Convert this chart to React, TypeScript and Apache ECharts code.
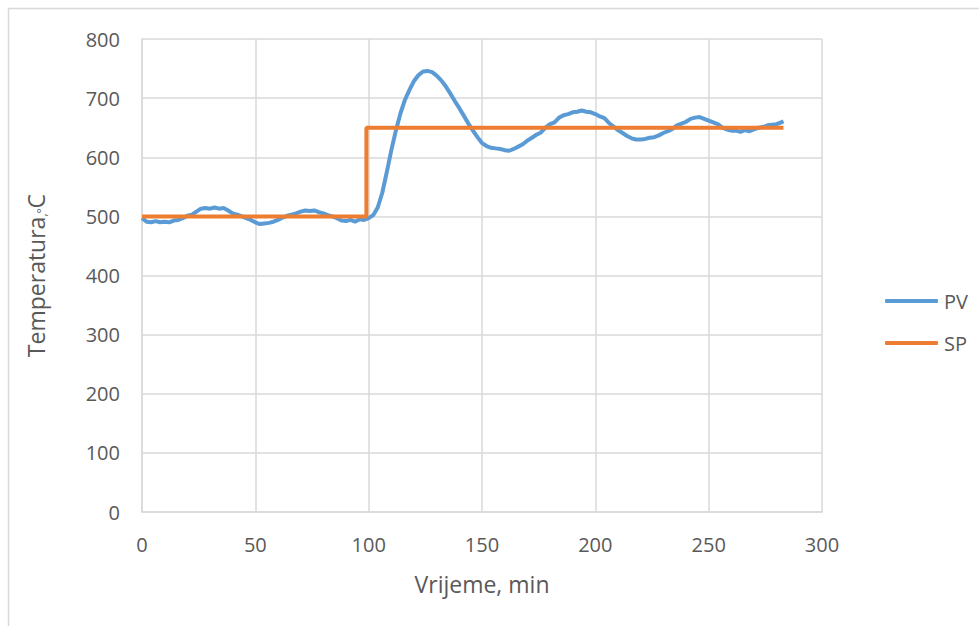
import React, { useEffect, useRef } from "react";
import * as echarts from "echarts";

const pvTimes: number[] = [
  0, 2, 4, 6, 8, 10, 12, 14, 16, 18, 20, 22, 24, 26, 28, 30, 32, 34, 36, 38,
  40, 42, 44, 46, 48, 50, 52, 54, 56, 58, 60, 62, 64, 66, 68, 70, 72, 74, 76, 78,
  80, 82, 84, 86, 88, 90, 92, 94, 96, 98, 100, 102, 104, 106, 108, 110, 112, 114, 116, 118,
  120, 122, 124, 126, 128, 130, 132, 134, 136, 138, 140, 142, 144, 146, 148, 150, 152, 154, 156, 158,
  160, 162, 164, 166, 168, 170, 172, 174, 176, 178, 180, 182, 184, 186, 188, 190, 192, 194, 196, 198,
  200, 202, 204, 206, 208, 210, 212, 214, 216, 218, 220, 222, 224, 226, 228, 230, 232, 234, 236, 238,
  240, 242, 244, 246, 248, 250, 252, 254, 256, 258, 260, 262, 264, 266, 268, 270, 272, 274, 276, 278,
  280, 282, 283,
];

const pvValues: number[] = [
  497, 491, 490, 492, 490, 491, 490, 493, 494, 497, 501, 503, 508, 513, 514, 513, 515, 513, 514, 510,
  505, 503, 500, 497, 494, 490, 487, 488, 489, 491, 494, 498, 501, 503, 505, 508, 510, 509, 510, 507,
  505, 502, 500, 497, 493, 492, 494, 491, 495, 494, 497, 502, 515, 540, 575, 612, 645, 674, 697, 714,
  729, 739, 745, 746, 744, 738, 730, 720, 708, 695, 683, 670, 657, 645, 634, 624, 619, 616, 615, 614,
  612, 611, 614, 618, 622, 628, 633, 638, 642, 650, 656, 659, 667, 671, 673, 676, 677, 679, 677, 676,
  673, 669, 666, 658, 652, 646, 641, 636, 632, 630, 630, 631, 633, 634, 637, 641, 644, 648, 654, 657,
  660, 665, 667, 668, 665, 662, 659, 656, 650, 647, 645, 645, 643, 646, 644, 647, 650, 651, 654, 655,
  656, 659, 661,
];

const spTimes: number[] = [0, 99, 99, 283];
const spValues: number[] = [500, 500, 650, 650];

const xTicks: number[] = [0, 50, 100, 150, 200, 250, 300];
const yTicks: number[] = [0, 100, 200, 300, 400, 500, 600, 700, 800];

const seriesNames = ["PV", "SP"];
const seriesColors = ["#5b9bd5", "#ed7d31"];

export default function App() {
  const ref = useRef<HTMLDivElement>(null);

  useEffect(() => {
    if (!ref.current) return;
    const chart = echarts.init(ref.current, undefined, { renderer: "svg" });
    const font = "'Open Sans', 'Liberation Sans', sans-serif";
    const pv = pvTimes.map((t, i) => [t, pvValues[i]]);
    const sp = spTimes.map((t, i) => [t, spValues[i]]);
    chart.setOption({
      animation: false,
      backgroundColor: "#ffffff",
      textStyle: { fontFamily: font },
      graphic: [
        {
          type: "rect",
          shape: { x: 8.5, y: 8.5, width: 1200, height: 1200 },
          style: { fill: "none", stroke: "#d9d9d9", lineWidth: 1.5 },
          silent: true,
        },
      ],
      grid: { left: 142, right: 157, top: 39, bottom: 114, containLabel: false },
      legend: {
        orient: "vertical",
        left: 880,
        top: 286,
        itemWidth: 53,
        itemHeight: 4,
        itemGap: 22,
        textStyle: { fontSize: 20, color: "#595959", fontFamily: font, padding: [0, 0, 0, 1] },
        data: seriesNames.map((n, i) => ({
          name: n,
          icon: "roundRect",
          itemStyle: { color: seriesColors[i] },
        })),
      },
      xAxis: {
        type: "value",
        min: xTicks[0],
        max: xTicks[xTicks.length - 1],
        interval: 50,
        name: "Vrijeme, min",
        nameLocation: "middle",
        nameGap: 60,
        nameTextStyle: { fontSize: 23, color: "#595959", fontFamily: font },
        axisLine: { show: true, lineStyle: { color: "#d9d9d9", width: 1.5 } },
        axisTick: { show: false },
        axisLabel: { fontSize: 20, color: "#595959", margin: 22, fontFamily: font },
        splitLine: { show: true, lineStyle: { color: "#d9d9d9", width: 1.5 } },
      },
      yAxis: {
        type: "value",
        min: yTicks[0],
        max: yTicks[yTicks.length - 1],
        interval: 100,
        name: "Temperatura{s|,°}C",
        nameLocation: "middle",
        nameGap: 95,
        nameTextStyle: {
          fontSize: 23,
          color: "#595959",
          fontFamily: font,
          rich: {
            s: { fontSize: 12, color: "#595959", fontFamily: font, verticalAlign: "bottom", padding: [10, 0, 0, 0] },
          },
        },
        axisLine: { show: true, lineStyle: { color: "#d9d9d9", width: 1.5 } },
        axisTick: { show: false },
        axisLabel: { fontSize: 20, color: "#595959", margin: 22, fontFamily: font },
        splitLine: { show: true, lineStyle: { color: "#d9d9d9", width: 1.5 } },
      },
      series: [
        {
          name: seriesNames[0],
          type: "line",
          data: pv,
          symbol: "none",
          lineStyle: { color: seriesColors[0], width: 4 },
          itemStyle: { color: seriesColors[0] },
          z: 2,
        },
        {
          name: seriesNames[1],
          type: "line",
          data: sp,
          symbol: "none",
          lineStyle: { color: seriesColors[1], width: 4 },
          itemStyle: { color: seriesColors[1] },
          z: 3,
        },
      ],
    });
    return () => chart.dispose();
  }, []);

  return (
    <div
      ref={ref}
      style={{ position: "absolute", left: 0, top: 0, width: 979, height: 626 }}
    />
  );
}
